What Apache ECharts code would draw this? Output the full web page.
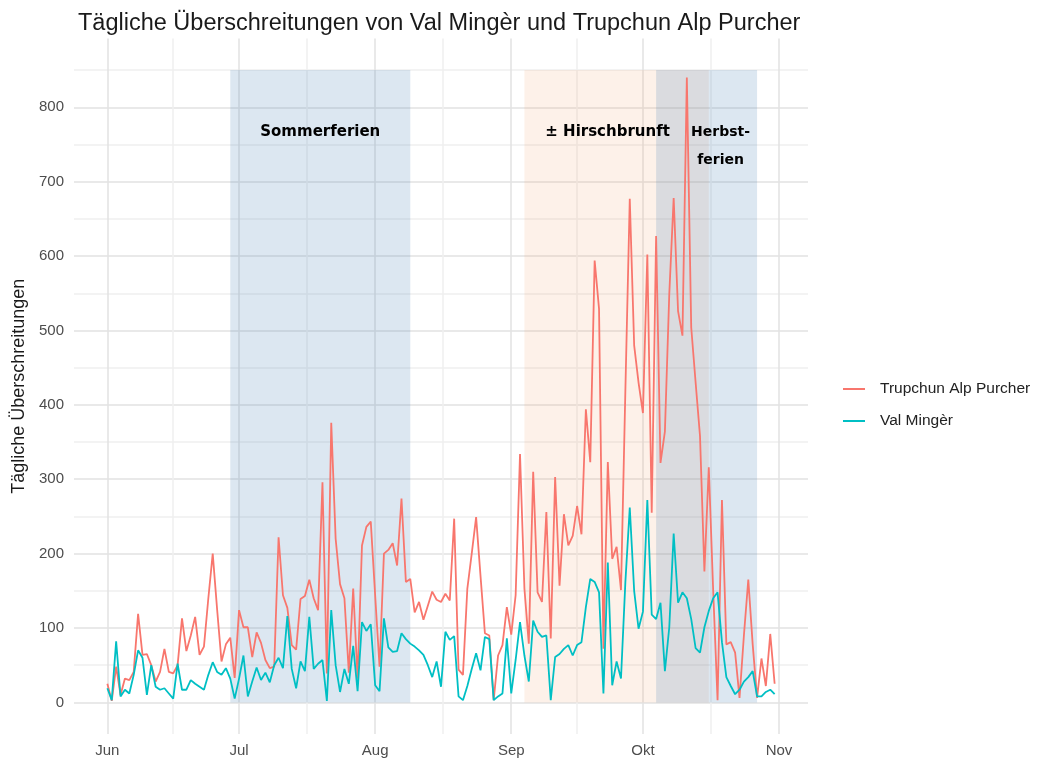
<!DOCTYPE html>
<html><head><meta charset="utf-8">
<script src="https://cdn.jsdelivr.net/npm/echarts@6/dist/echarts.min.js"></script>
<style>html,body{margin:0;padding:0;background:#fff}#c{width:1041px;height:758px}</style>
</head><body><div id="c"></div>
<script>
// ---- data (daily values from 1 Jun to 31 Oct) ----
const startDate = [2023, 5, 1];
const trupchun = [25,2,48,10,32,30,41,119,64,65,50,28,41,72,41,39,50,113,69,90,
  115,64,75,140,200,125,55,78,87,33,124,101,101,61,94,80,57,46,48,222,
  144,127,77,71,139,143,165,140,124,296,39,376,220,159,140,40,153,32,211,236,
  243,144,48,200,205,214,184,274,162,166,121,135,111,130,149,138,135,146,137,247,
  44,37,153,200,249,170,93,90,3,63,77,128,91,144,334,153,79,310,148,135,
  256,86,303,157,253,211,224,264,226,394,323,594,529,72,323,193,209,151,420,677,
  480,430,389,602,255,627,322,364,549,678,526,493,840,504,430,358,176,316,150,3,
  272,78,81,67,6,90,165,78,6,59,22,92,25];
const valMinger = [19,3,82,8,17,12,37,70,60,10,50,21,17,19,12,5,52,17,17,30,
  25,21,17,37,54,41,37,46,32,5,32,63,8,28,47,30,40,27,50,60,
  46,116,45,19,55,42,115,45,52,57,2,124,50,14,45,25,76,15,108,96,
  105,23,15,113,74,68,69,93,85,79,75,70,64,50,34,55,21,95,84,89,
  8,3,22,45,66,43,88,85,3,8,12,86,12,57,108,63,28,110,95,88,
  90,3,61,65,72,77,63,77,81,128,166,162,148,12,188,23,55,32,162,262,
  150,99,122,272,118,112,134,42,101,227,134,148,140,112,73,67,101,123,140,148,
  81,34,22,11,17,28,34,42,8,8,14,17,11];
const seriesNames = ['Trupchun Alp Purcher', 'Val Mingèr'];
const monthLabels = ['Jun', 'Jul', 'Aug', 'Sep', 'Okt', 'Nov'];
const monthStarts = [[2023,5,1],[2023,6,1],[2023,7,1],[2023,8,1],[2023,9,1],[2023,10,1]];
const midMonths = [[2023,5,16,0],[2023,6,16,12],[2023,7,16,12],[2023,8,16,0],[2023,9,16,12]];
const yMajor = [0,100,200,300,400,500,600,700,800];
const yMinor = [50,150,250,350,450,550,650,750,850];
const periods = [
  {name: 'Sommerferien', start: [2023,5,29], end: [2023,7,9], top: 850},
  {name: '± Hirschbrunft', start: [2023,8,4], end: [2023,9,16], top: 850},
  {name: 'Herbst-\nferien', start: [2023,9,4], end: [2023,9,27], top: 850}
];
const periodColors = ['rgba(70,130,180,0.19)', 'rgba(240,160,110,0.15)', 'rgba(70,130,180,0.19)'];
const periodOffsets = [[0, 43], [-9, 43], [14, 43]];
const periodFontSizes = [15, 15, 14];

// ---- helpers: x is expressed in days since startDate ----
const DAY = 86400000;
const t = a => new Date(a[0], a[1], a[2], a[3] || 0).getTime();
const t0 = t(startDate);
const dayOf = a => Math.round((t(a) - t0) / DAY * 2) / 2;
const nDays = trupchun.length;
const span = nDays - 1;

const majorX = monthStarts.map(dayOf);
const xTicks = majorX.concat(midMonths.map(dayOf)).sort((a, b) => a - b);
const xColors = xTicks.map(v => majorX.includes(v) ? '#e2e2e2' : '#efefef');
const yTicks = yMajor.concat(yMinor).sort((a, b) => a - b);
const yColors = yTicks.map(v => yMajor.includes(v) ? '#e2e2e2' : '#efefef');
const font = 'Liberation Sans, Arial, sans-serif';

const chart = echarts.init(document.getElementById('c'), null, {renderer: 'canvas'});
const option = {
  animation: false,
  backgroundColor: '#ffffff',
  title: {
    text: 'Tägliche Überschreitungen von Val Mingèr und Trupchun Alp Purcher',
    left: 73, top: 7,
    textStyle: {fontFamily: font, fontSize: 23.5, fontWeight: 'normal', color: '#1a1a1a'}
  },
  grid: {left: 74, right: 233, top: 38.5, bottom: 22.3, containLabel: false},
  legend: {
    orient: 'vertical', left: 838, top: 376,
    icon: 'rect', itemWidth: 22, itemHeight: 2, itemGap: 16,
    data: seriesNames,
    textStyle: {fontFamily: font, fontSize: 15.5, color: '#222', padding: [0, 0, 0, 10]}
  },
  xAxis: {
    type: 'value',
    min: -span * 0.05,
    max: span * 1.05,
    axisLine: {show: false},
    axisTick: {show: false, customValues: xTicks},
    axisLabel: {
      customValues: majorX,
      formatter: v => monthLabels[majorX.indexOf(v)],
      fontFamily: font, fontSize: 15, color: '#4d4d4d', margin: 9
    },
    splitLine: {show: true, lineStyle: {color: xColors, width: 1.5}}
  },
  yAxis: {
    type: 'value',
    min: -42.5, max: 892.5,
    name: 'Tägliche Überschreitungen',
    nameLocation: 'middle', nameGap: 45, nameRotate: 90,
    nameTextStyle: {fontFamily: font, fontSize: 18, color: '#1a1a1a'},
    axisLine: {show: false},
    axisTick: {show: false, customValues: yTicks},
    axisLabel: {
      customValues: yMajor,
      fontFamily: font, fontSize: 15, color: '#4d4d4d', margin: 10
    },
    splitLine: {show: true, lineStyle: {color: yColors, width: 1.5}}
  },
  series: [
    {
      type: 'line', name: 'periods', data: [], silent: true,
      markArea: {
        silent: true,
        data: periods.map((p, i) => [
          {
            xAxis: dayOf(p.start), yAxis: 0,
            itemStyle: {color: periodColors[i]},
            label: {
              show: true, position: 'insideTop', offset: periodOffsets[i],
              formatter: p.name, align: 'center',
              fontFamily: 'DejaVu Sans, sans-serif', fontWeight: 'bold', fontSize: periodFontSizes[i],
              lineHeight: 28, color: '#000'
            }
          },
          {xAxis: dayOf(p.end), yAxis: p.top}
        ])
      }
    },
    {
      type: 'line', name: seriesNames[0], showSymbol: false, symbol: 'none',
      color: '#F8766D', lineStyle: {width: 1.8, color: '#F8766D'},
      data: trupchun.map((v, i) => [i, v])
    },
    {
      type: 'line', name: seriesNames[1], showSymbol: false, symbol: 'none',
      color: '#00BFC4', lineStyle: {width: 1.8, color: '#00BFC4'},
      data: valMinger.map((v, i) => [i, v])
    }
  ]
};
chart.setOption(option);
</script>
</body></html>
